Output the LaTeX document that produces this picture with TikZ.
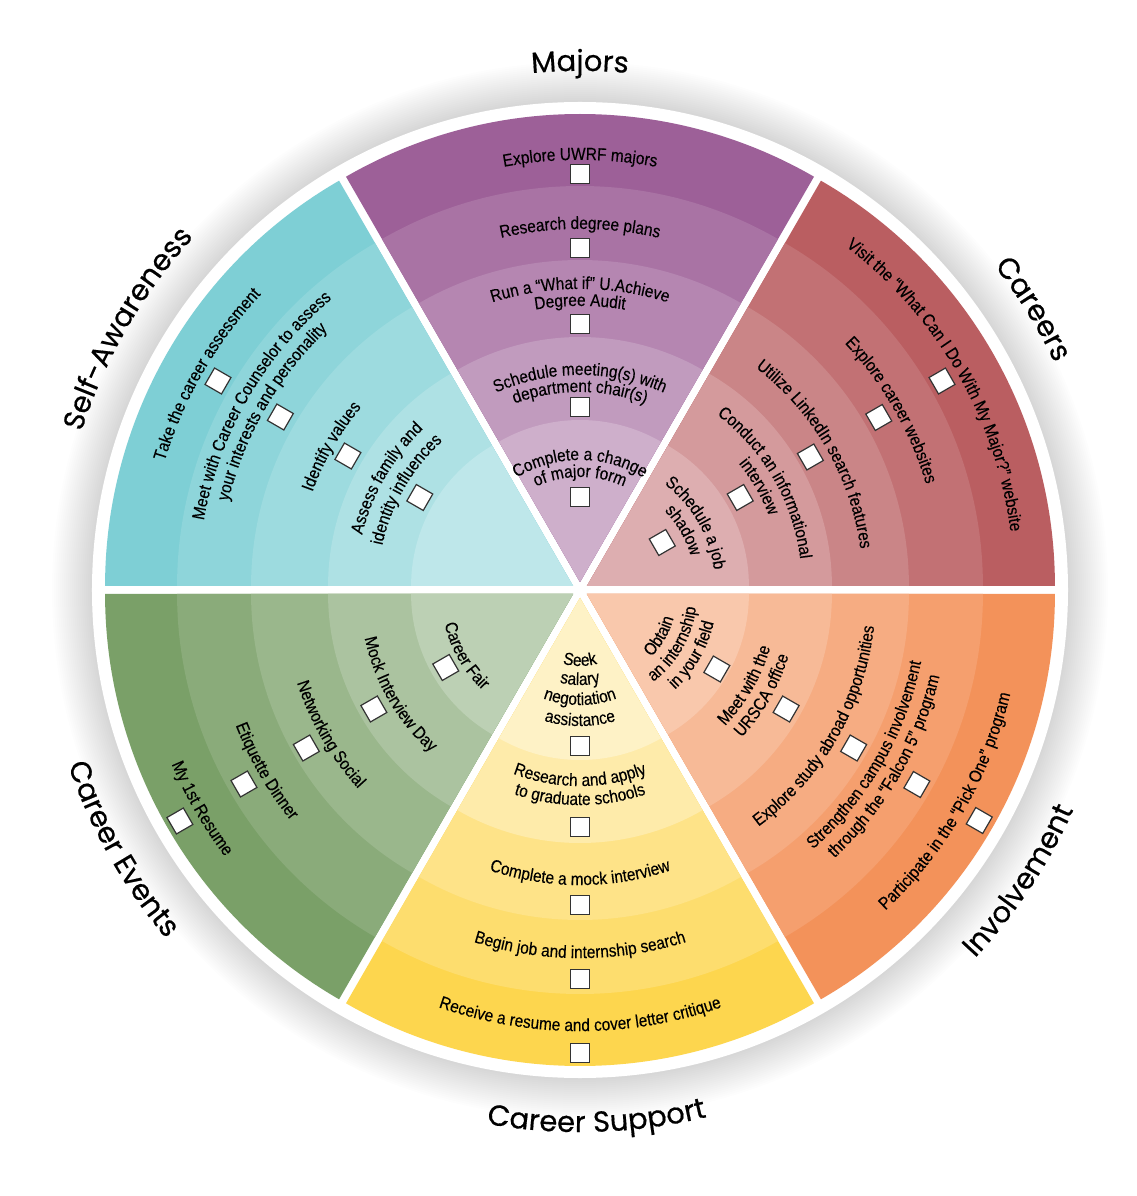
\documentclass[tikz,border=0pt]{standalone}
\usepackage{fontspec}
\newfontfamily\itemfont{Liberation Sans}[FakeStretch=0.88, FakeBold=0.2]
\newfontfamily\headfont{Poppins}[FakeBold=0.5]
\usetikzlibrary{decorations.text}
\definecolor{majc}{RGB}{157,96,152}
\definecolor{carc}{RGB}{186,94,97}
\definecolor{invc}{RGB}{243,146,90}
\definecolor{supc}{RGB}{253,214,78}
\definecolor{evtc}{RGB}{122,160,104}
\definecolor{slfc}{RGB}{126,207,213}
\newcommand{\itemsize}{\itemfont\fontsize{17.5pt}{18pt}\selectfont}
\newcommand{\headsize}{\headfont\fontsize{29pt}{30pt}\selectfont}
\newcommand{\bands}[3][468/100,396/88,322/76,245/63,162/50]{%
  \foreach \r/\f in {#1}
    \fill[#3!\f] (0,0) -- (#2-30:\r) arc[start angle=#2-30, end angle=#2+30, radius=\r*1pt] -- cycle;}
\tikzset{
  ringtext/.style={decorate, decoration={text along path, text align=center, text={|\itemsize|#1}}},
  headtext/.style={decorate, decoration={text along path, text align=center, text={|\headsize|#1}}},
  chk/.style={draw=black!80, fill=white, line width=1.2pt, minimum size=19pt, inner sep=0pt},
}
\begin{document}
\begin{tikzpicture}[x=1pt, y=1pt]
  \useasboundingbox (-580,-606) rectangle (557,590);
  \fill[white] (-580,-606) rectangle (557,590);
  \foreach \i in {1,...,20}
    \fill[black, opacity=0.008] (0,0) circle[radius=488pt+\i*2pt];
  \fill[white] (0,0) circle[radius=488pt];

  \begin{scope}[shift={(90:8)}]
    \bands{90}{majc}
    \path[ringtext={Explore UWRF majors}] (160:422) arc[start angle=160, end angle=20, radius=422pt];
    \path[ringtext={Research degree plans}] (160:353) arc[start angle=160, end angle=20, radius=353pt];
    \path[ringtext={Run a “What if” U.Achieve}] (160:293) arc[start angle=160, end angle=20, radius=293pt];
    \path[ringtext={Degree Audit}] (160:276) arc[start angle=160, end angle=20, radius=276pt];
    \path[ringtext={Schedule meeting(s) with}] (160:207) arc[start angle=160, end angle=20, radius=207pt];
    \path[ringtext={department chair(s)}] (160:190) arc[start angle=160, end angle=20, radius=190pt];
    \path[ringtext={Complete a change}] (160:122) arc[start angle=160, end angle=20, radius=122pt];
    \path[ringtext={of major form}] (160:105) arc[start angle=160, end angle=20, radius=105pt];
    \node[chk] (maj1) at (90:408) {};
    \node[chk] (maj2) at (90:334) {};
    \node[chk] (maj3) at (90:258) {};
    \node[chk] (maj4) at (90:175) {};
    \node[chk] (maj5) at (90:85) {};
  \end{scope}

  \begin{scope}[shift={(30:8)}]
    \bands{30}{carc}
    \path[ringtext={Visit the “What Can I Do With My Major?” website}] (100:427) arc[start angle=100, end angle=-40, radius=427pt];
    \path[ringtext={Explore career websites}] (100:354) arc[start angle=100, end angle=-40, radius=354pt];
    \path[ringtext={Utilize LinkedIn search features}] (100:276) arc[start angle=100, end angle=-40, radius=276pt];
    \path[ringtext={Conduct an informational}] (100:215) arc[start angle=100, end angle=-40, radius=215pt];
    \path[ringtext={interview}] (100:195) arc[start angle=100, end angle=-40, radius=195pt];
    \path[ringtext={Schedule a job}] (100:128) arc[start angle=100, end angle=-40, radius=128pt];
    \path[ringtext={shadow}] (100:108) arc[start angle=100, end angle=-40, radius=108pt];
    \node[chk, rotate=-60] (car1) at (30:410) {};
    \node[chk, rotate=-60] (car2) at (30:337) {};
    \node[chk, rotate=-60] (car3) at (30:258) {};
    \node[chk, rotate=-60] (car4) at (30:177) {};
    \node[chk, rotate=-60] (car5) at (30:87) {};
  \end{scope}

  \begin{scope}[shift={(150:8)}]
    \bands{150}{slfc}
    \path[ringtext={Take the career assessment}] (220:427) arc[start angle=220, end angle=80, radius=427pt];
    \path[ringtext={Meet with Career Counselor to assess}] (220:375) arc[start angle=220, end angle=80, radius=375pt];
    \path[ringtext={your interests and personality}] (220:355) arc[start angle=220, end angle=80, radius=355pt];
    \path[ringtext={Identify values}] (220:277) arc[start angle=220, end angle=80, radius=277pt];
    \path[ringtext={Assess family and}] (220:217) arc[start angle=220, end angle=80, radius=217pt];
    \path[ringtext={identity influences}] (220:195) arc[start angle=220, end angle=80, radius=195pt];
    \node[chk, rotate=60] (slf1) at (150:410) {};
    \node[chk, rotate=60] (slf2) at (150:338) {};
    \node[chk, rotate=60] (slf3) at (150:260) {};
    \node[chk, rotate=60] (slf4) at (150:177) {};
  \end{scope}

  \begin{scope}[shift={(210:8)}]
    \bands{210}{evtc}
    \path[ringtext={Career Fair}] (140:132) arc[start angle=140, end angle=280, radius=132pt];
    \path[ringtext={Mock Interview Day}] (140:213) arc[start angle=140, end angle=280, radius=213pt];
    \path[ringtext={Networking Social}] (140:290) arc[start angle=140, end angle=280, radius=290pt];
    \path[ringtext={Etiquette Dinner}] (140:362) arc[start angle=140, end angle=280, radius=362pt];
    \path[ringtext={My 1st Resume}] (140:436) arc[start angle=140, end angle=280, radius=436pt];
    \node[chk, rotate=30] (evt1) at (210:147) {};
    \node[chk, rotate=30] (evt2) at (210:230) {};
    \node[chk, rotate=30] (evt3) at (210:308) {};
    \node[chk, rotate=30] (evt4) at (210:380) {};
    \node[chk, rotate=30] (evt5) at (210:454) {};
  \end{scope}

  \begin{scope}[shift={(270:8)}]
    \bands[468/100,396/82,322/67,245/48,162/32]{270}{supc}
    \path[ringtext={Seek}] (200:68) arc[start angle=200, end angle=340, radius=68pt];
    \path[ringtext={salary}] (200:87) arc[start angle=200, end angle=340, radius=87pt];
    \path[ringtext={negotiation}] (200:107) arc[start angle=200, end angle=340, radius=107pt];
    \path[ringtext={assistance}] (200:128) arc[start angle=200, end angle=340, radius=128pt];
    \path[ringtext={Research and apply}] (200:188) arc[start angle=200, end angle=340, radius=188pt];
    \path[ringtext={to graduate schools}] (200:207) arc[start angle=200, end angle=340, radius=207pt];
    \path[ringtext={Complete a mock interview}] (200:287) arc[start angle=200, end angle=340, radius=287pt];
    \path[ringtext={Begin job and internship search}] (200:360) arc[start angle=200, end angle=340, radius=360pt];
    \path[ringtext={Receive a resume and cover letter critique}] (200:433) arc[start angle=200, end angle=340, radius=433pt];
    \node[chk] (sup1) at (270:148) {};
    \node[chk] (sup2) at (270:229) {};
    \node[chk] (sup3) at (270:307) {};
    \node[chk] (sup4) at (270:381) {};
    \node[chk] (sup5) at (270:455) {};
  \end{scope}

  \begin{scope}[shift={(330:8)}]
    \bands{330}{invc}
    \path[ringtext={Obtain}] (260:90) arc[start angle=260, end angle=400, radius=90pt];
    \path[ringtext={an internship}] (260:110) arc[start angle=260, end angle=400, radius=110pt];
    \path[ringtext={in your field}] (260:130) arc[start angle=260, end angle=400, radius=130pt];
    \path[ringtext={Meet with the}] (260:191) arc[start angle=260, end angle=400, radius=191pt];
    \path[ringtext={URSCA office}] (260:211) arc[start angle=260, end angle=400, radius=211pt];
    \path[ringtext={Explore study abroad opportunities}] (260:289) arc[start angle=260, end angle=400, radius=289pt];
    \path[ringtext={Strengthen campus involvement}] (260:341) arc[start angle=260, end angle=400, radius=341pt];
    \path[ringtext={through the “Falcon 5” program}] (260:362) arc[start angle=260, end angle=400, radius=362pt];
    \path[ringtext={Participate in the “Pick One” program}] (260:435) arc[start angle=260, end angle=400, radius=435pt];
    \node[chk, rotate=60] (inv1) at (330:150) {};
    \node[chk, rotate=60] (inv2) at (330:230) {};
    \node[chk, rotate=60] (inv3) at (330:308) {};
    \node[chk, rotate=60] (inv4) at (330:381) {};
    \node[chk, rotate=60] (inv5) at (330:453) {};
  \end{scope}

  \path[headtext={Majors}] (150:519) arc[start angle=150, end angle=30, radius=519pt];
  \path[headtext={Careers}] (91.8:526) arc[start angle=91.8, end angle=-28.2, radius=526pt];
  \path[headtext={Self-Awareness}] (210:523) arc[start angle=210, end angle=90, radius=523pt];
  \path[headtext={Career Events}] (149.5:541) arc[start angle=149.5, end angle=269.5, radius=541pt];
  \path[headtext={Career Support}] (211.8:542) arc[start angle=211.8, end angle=331.8, radius=542pt];
  \path[headtext={Involvement}] (266.5:540) arc[start angle=266.5, end angle=386.5, radius=540pt];
\end{tikzpicture}
\end{document}
